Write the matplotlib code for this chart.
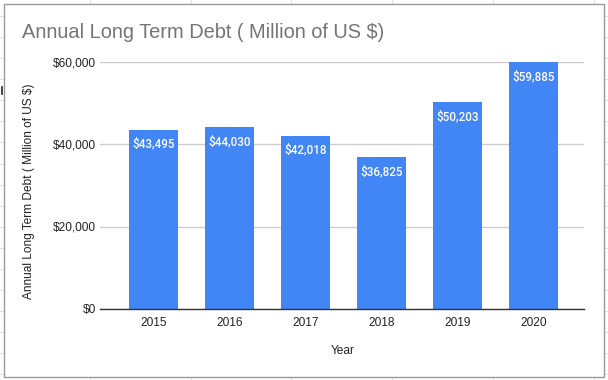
import matplotlib
matplotlib.use("Agg")
import matplotlib.pyplot as plt
from matplotlib.lines import Line2D
from matplotlib.patches import Rectangle
from matplotlib.ticker import FuncFormatter

years = ["2015", "2016", "2017", "2018", "2019", "2020"]
debt = [43495, 44030, 42018, 36825, 50203, 59885]
yticks = [0, 20000, 40000, 60000]

W, H = 608, 380
fig = plt.figure(figsize=(W / 100, H / 100), dpi=100)
fig.patch.set_facecolor("white")

def fx(px):
    return px / W

def fy(py):
    return 1 - py / H

# spreadsheet grid behind chart
for k in range(18):
    y = 16 + 21.08 * k
    fig.add_artist(Line2D([0, 1], [fy(y), fy(y)], color="#e2e2e2", lw=0.8, zorder=0))
for x in [90, 191, 291, 392, 493, 594]:
    fig.add_artist(Line2D([fx(x), fx(x)], [0, 1], color="#e2e2e2", lw=0.8, zorder=0))
fig.add_artist(Line2D([fx(2), fx(2)], [fy(87), fy(94)], color="#222222", lw=1.2, zorder=0))

# chart box
fig.add_artist(Rectangle((fx(3.5), fy(376.5)), fx(600), (373 / H), facecolor="white",
                         edgecolor="#9a9a9a", lw=1.0, zorder=1))

ax = fig.add_axes([fx(100), fy(309), fx(484), (309 - 61.5) / H], zorder=2)
ax.set_facecolor("none")

x = list(range(len(years)))
bars = ax.bar(x, debt, width=0.64, color="#4285f4", zorder=3)
for b, v in zip(bars, debt):
    ax.annotate(f"${v:,}", (b.get_x() + b.get_width() / 2, v), xytext=(0, -10.5),
                textcoords="offset points", ha="center", va="center",
                color="white", fontsize=8.4, family="Roboto", fontweight="medium", zorder=4)

ax.set_xlim(-0.704, 5.664)
ax.set_ylim(0, 60000)
ax.set_yticks(yticks)
ax.yaxis.set_major_formatter(FuncFormatter(lambda v, p: f"${int(v):,}"))
ax.set_xticks(x)
ax.set_xticklabels(years)
ax.grid(axis="y", color="#cccccc", lw=1.0, zorder=0)
ax.set_axisbelow(True)
for s in ["top", "right", "left"]:
    ax.spines[s].set_visible(False)
ax.spines["bottom"].set_color("#333333")
ax.spines["bottom"].set_linewidth(1.0)
ax.spines["bottom"].set_zorder(5)
ax.tick_params(axis="both", length=0, labelsize=8.6, labelcolor="#222222")
ax.tick_params(axis="y", pad=3)
ax.tick_params(axis="x", pad=6)
for lbl in ax.get_xticklabels() + ax.get_yticklabels():
    lbl.set_family("Liberation Sans")

fig.text(fx(22), fy(33), "Annual Long Term Debt ( Million of US $)", ha="left", va="center",
         fontsize=14.4, color="#757575", family="Liberation Sans", zorder=3)
fig.text(fx(29), fy(191), "Annual Long Term Debt ( Million of US $)", rotation=90,
         ha="center", va="center", fontsize=8.6, color="#222222", family="Liberation Sans", zorder=3)
fig.text(fx(343), fy(351), "Year", ha="center", va="center", fontsize=8.6,
         color="#222222", family="Liberation Sans", zorder=3)

fig.savefig("out.png", dpi=100)
